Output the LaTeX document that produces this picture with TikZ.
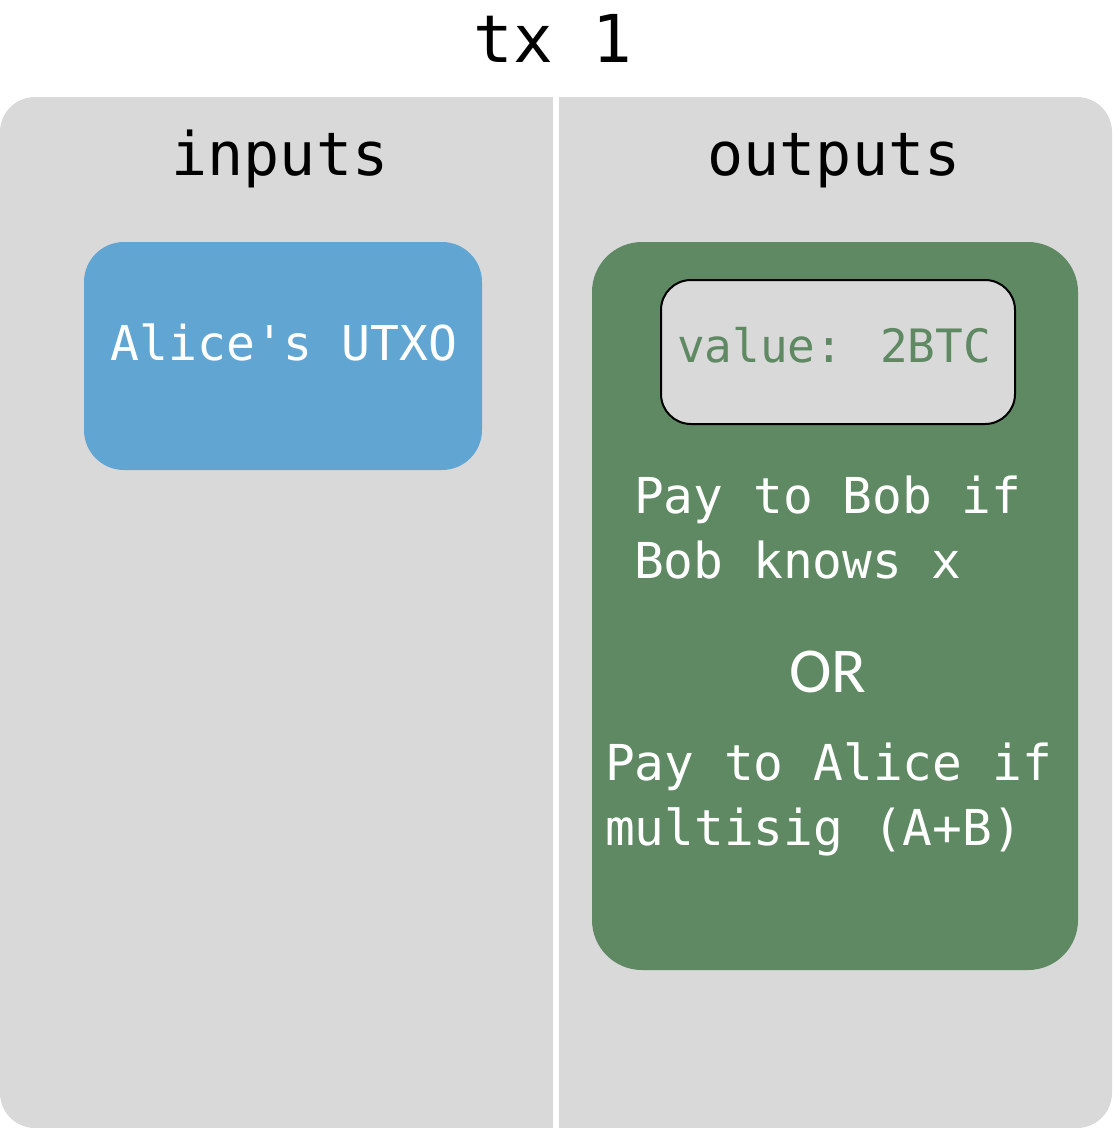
\documentclass[tikz,border=0pt]{standalone}
\usepackage{fontspec}
\newfontfamily\monofont{DejaVu Sans Mono}
\newfontfamily\orfont{Carlito}
\definecolor{panelgray}{HTML}{D9D9D9}
\definecolor{utxoblue}{HTML}{61A6D3}
\definecolor{outgreen}{HTML}{5E8962}
\tikzset{
  txt/.style={inner sep=0pt, outer sep=0pt, text=white, font=\monofont\fontsize{49.5}{58}\selectfont},
  head/.style={inner sep=0pt, text=black, font=\monofont\fontsize{60}{72}\selectfont, anchor=base},
}
\begin{document}
\begin{tikzpicture}[x=1pt,y=-1pt]
\useasboundingbox (0,0) rectangle (1112,1128);
% title
\node[inner sep=0pt, anchor=base, font=\monofont\fontsize{66}{80}\selectfont] (title) at (553,62) {tx 1};
% panel
\fill[panelgray, rounded corners=35pt] (0,97) rectangle (1112,1128);
\draw[white, line width=6pt] (556,95) -- (556,1130);
\node[head] (inputs) at (280,175) {inputs};
\node[head] (outputs) at (834,175) {outputs};
% inputs box
\fill[utxoblue, rounded corners=40pt] (84,242) rectangle (482,470);
\node[txt, anchor=base, font=\monofont\fontsize{48}{58}\selectfont] (utxo) at (284,360) {Alice's UTXO};
% outputs box
\fill[outgreen, rounded corners=50pt] (592,242) rectangle (1078,970);
\draw[black, line width=2pt, fill=panelgray, rounded corners=30pt] (661,280) rectangle (1015,424);
\node[txt, anchor=base, text=outgreen, font=\monofont\fontsize{46}{56}\selectfont] (value) at (834,362) {value: 2BTC};
\node[txt, anchor=base west] (bob1) at (634,513) {Pay to Bob if};
\node[txt, anchor=base west] (bob2) at (634,578) {Bob knows x};
\node[inner sep=0pt, anchor=base, text=white, font=\orfont\fontsize{64}{76}\selectfont] (or) at (828,692) {OR};
\node[txt, anchor=base west] (alice1) at (605,780) {Pay to Alice if};
\node[txt, anchor=base west] (alice2) at (605,845) {multisig (A+B)};
\end{tikzpicture}
\end{document}
